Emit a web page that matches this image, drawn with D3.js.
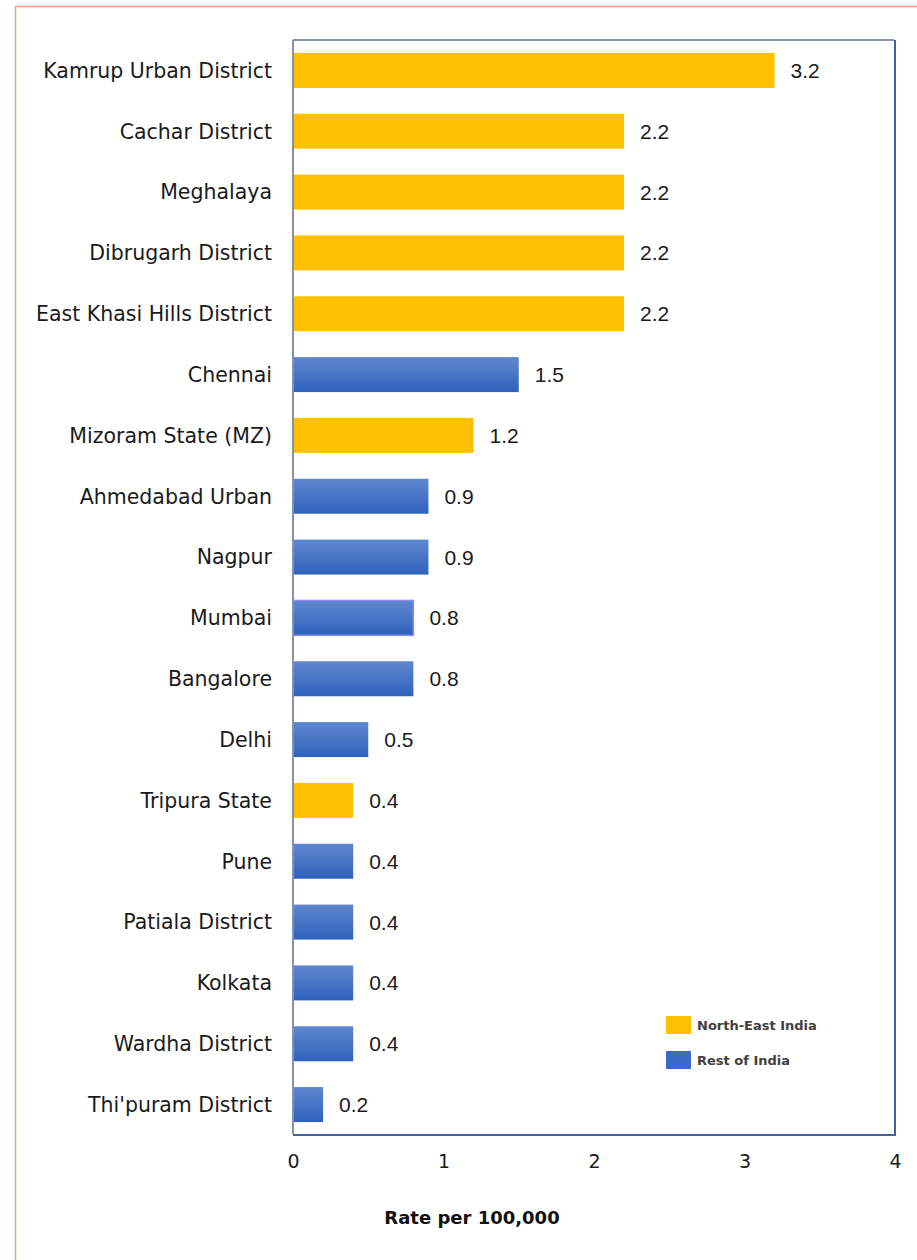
<!DOCTYPE html>
<html>
<head>
<meta charset="utf-8">
<script src="https://cdn.jsdelivr.net/npm/d3@7"></script>
<style>
  html, body { margin: 0; padding: 0; background: #fff; }
  svg { display: block; }
</style>
</head>
<body>
<svg id="chart" width="917" height="1260"></svg>
<script>
// Sites, ordered top to bottom
const categories = [
  "Kamrup Urban District", "Cachar District", "Meghalaya", "Dibrugarh District",
  "East Khasi Hills District", "Chennai", "Mizoram State (MZ)", "Ahmedabad Urban",
  "Nagpur", "Mumbai", "Bangalore", "Delhi", "Tripura State", "Pune",
  "Patiala District", "Kolkata", "Wardha District", "Thi'puram District"
];
// Rate per 100,000
const values = [3.2, 2.2, 2.2, 2.2, 2.2, 1.5, 1.2, 0.9, 0.9, 0.8, 0.8, 0.5, 0.4, 0.4, 0.4, 0.4, 0.4, 0.2];
// Region of each site
const regions = ["NE", "NE", "NE", "NE", "NE", "RI", "NE", "RI", "RI", "RI", "RI", "RI", "NE", "RI", "RI", "RI", "RI", "RI"];
const legendLabels = ["North-East India", "Rest of India"];
const xTicks = [0, 1, 2, 3, 4];
const axisTitle = "Rate per 100,000";

const svg = d3.select("#chart");
const defs = svg.append("defs");
const grad = defs.append("linearGradient")
  .attr("id", "blueGrad").attr("x1", 0).attr("y1", 0).attr("x2", 0).attr("y2", 1);
grad.append("stop").attr("offset", "0%").attr("stop-color", "#5f87cf");
grad.append("stop").attr("offset", "100%").attr("stop-color", "#2f62bd");

const labelFont = "'DejaVu Sans', sans-serif";

// outer frame
svg.append("path")
  .attr("d", "M15.5,1260 V6.5 H917")
  .attr("fill", "none").attr("stroke", "#f4a374").attr("stroke-width", 1.5);

const plot = { left: 293, right: 895, top: 40, bottom: 1135 };

const x = d3.scaleLinear().domain([0, 4]).range([plot.left, plot.right]);
const y = d3.scaleBand().domain(categories).range([plot.top, plot.bottom]).paddingInner(0.425).paddingOuter(0.2125);

const data = categories.map((c, i) => ({ cat: c, v: values[i], region: regions[i] }));

// bars
svg.append("g").selectAll("rect").data(data).enter().append("rect")
  .attr("x", x(0))
  .attr("y", d => y(d.cat))
  .attr("width", d => x(d.v) - x(0))
  .attr("height", y.bandwidth())
  .attr("fill", d => d.region === "NE" ? "#ffc000" : "url(#blueGrad)")
  .attr("stroke", d => d.cat === "Mumbai" ? "#8c8cf0" : "none")
  .attr("stroke-width", 1.5);

// value labels
svg.append("g").selectAll("text").data(data).enter().append("text")
  .attr("x", d => x(d.v) + 16)
  .attr("y", d => y(d.cat) + y.bandwidth() / 2)
  .attr("dy", "0.36em")
  .attr("font-family", "'Liberation Sans', Arial, sans-serif")
  .attr("font-size", 21)
  .attr("fill", "#1a1a1a")
  .text(d => d.v.toFixed(1));

// category labels
svg.append("g").selectAll("text").data(data).enter().append("text")
  .attr("x", 272)
  .attr("y", d => y(d.cat) + y.bandwidth() / 2)
  .attr("dy", "0.36em")
  .attr("text-anchor", "end")
  .attr("font-family", labelFont)
  .attr("font-size", 20.5)
  .attr("fill", "#1a1a1a")
  .text(d => d.cat);

// plot frame: grey top/left, blue right/bottom
svg.append("line").attr("x1", plot.right).attr("x2", plot.right).attr("y1", plot.top).attr("y2", plot.bottom)
  .attr("stroke", "#3f62a6").attr("stroke-width", 2);
svg.append("line").attr("x1", plot.left).attr("x2", plot.right + 1).attr("y1", plot.bottom).attr("y2", plot.bottom)
  .attr("stroke", "#3f62a6").attr("stroke-width", 2);
svg.append("line").attr("x1", plot.left).attr("x2", plot.right - 1).attr("y1", plot.top).attr("y2", plot.top)
  .attr("stroke", "#8791a8").attr("stroke-width", 2);
svg.append("line").attr("x1", plot.left).attr("x2", plot.left).attr("y1", plot.top).attr("y2", plot.bottom - 1)
  .attr("stroke", "#8791a8").attr("stroke-width", 2);

// x axis tick labels
const xAxis = d3.axisBottom(x).tickValues(xTicks).tickSize(0).tickPadding(20).tickFormat(d3.format("d"));
const ax = svg.append("g").attr("transform", `translate(0,${plot.bottom})`).call(xAxis);
ax.select(".domain").remove();
ax.selectAll("text")
  .attr("font-family", labelFont)
  .attr("font-size", 19)
  .attr("fill", "#1a1a1a");

// axis title
svg.append("text")
  .attr("x", 472).attr("y", 1224)
  .attr("text-anchor", "middle")
  .attr("font-family", labelFont)
  .attr("font-weight", "bold")
  .attr("font-size", 18)
  .attr("fill", "#111")
  .text(axisTitle);

// legend
const legend = svg.append("g");
const legendColors = ["#ffc000", "#3a6bc6"];
legendLabels.forEach((l, i) => {
  const ly = 1016 + i * 35;
  legend.append("rect").attr("x", 666).attr("y", ly).attr("width", 25).attr("height", 18).attr("fill", legendColors[i]);
  legend.append("text").attr("x", 697).attr("y", ly + 9).attr("dy", "0.36em")
    .attr("font-family", labelFont).attr("font-weight", "bold").attr("font-size", 13)
    .attr("fill", "#404040").text(l);
});
</script>
</body>
</html>
